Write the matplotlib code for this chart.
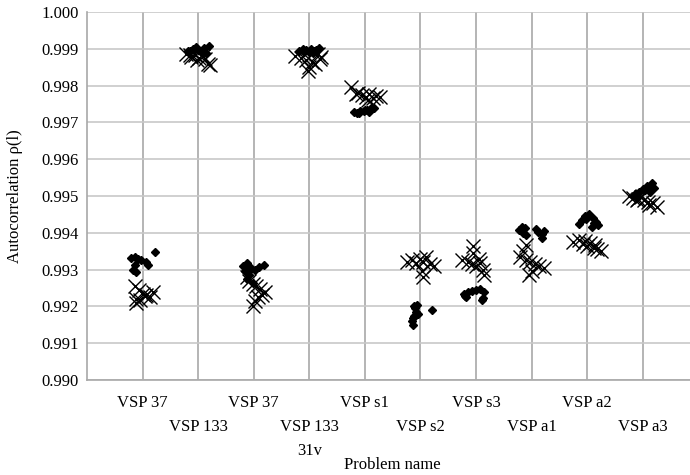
import matplotlib
matplotlib.use("Agg")
import matplotlib.pyplot as plt
import numpy as np

plt.rcParams['font.family'] = ['Liberation Serif', 'DejaVu Serif']

categories = ["VSP 37", "VSP 133", "VSP 37", "VSP 133\n31v", "VSP s1",
              "VSP s2", "VSP s3", "VSP a1", "VSP a2", "VSP a3"]

# diamond series (values and horizontal jitter in category units)
diamond_y = [
    [0.99348, 0.99332, 0.99334, 0.99328, 0.99326, 0.99320, 0.99312, 0.99312, 0.99299, 0.99293],
    [0.99895, 0.99900, 0.99905, 0.99898, 0.99890, 0.99893, 0.99902, 0.99908, 0.99888, 0.99896],
    [0.99310, 0.99318, 0.99305, 0.99300, 0.99308, 0.99312, 0.99295, 0.99285, 0.99275, 0.99264],
    [0.99895, 0.99900, 0.99898, 0.99892, 0.99888, 0.99896, 0.99902, 0.99890, 0.99899, 0.99894],
    [0.99728, 0.99726, 0.99730, 0.99732, 0.99735, 0.99728, 0.99738, 0.99740, 0.99733, 0.99725],
    [0.99200, 0.99195, 0.99185, 0.99175, 0.99168, 0.99160, 0.99150, 0.99190, 0.99180, 0.99205],
    [0.99235, 0.99240, 0.99242, 0.99245, 0.99248, 0.99240, 0.99225, 0.99218, 0.99222, 0.99228],
    [0.99416, 0.99408, 0.99400, 0.99395, 0.99410, 0.99402, 0.99398, 0.99386, 0.99405, 0.99412],
    [0.99425, 0.99435, 0.99445, 0.99452, 0.99440, 0.99430, 0.99420, 0.99415, 0.99438, 0.99428],
    [0.99500, 0.99505, 0.99512, 0.99520, 0.99528, 0.99535, 0.99510, 0.99495, 0.99522, 0.99515],
]
diamond_dx = [
    [0.22, -0.20, -0.14, -0.09, -0.02, 0.07, 0.09, -0.14, -0.18, -0.11],
    [-0.18, -0.10, -0.04, 0.00, 0.05, -0.14, 0.10, 0.20, 0.15, -0.07],
    [-0.20, -0.12, -0.05, 0.03, 0.10, 0.18, -0.15, -0.08, -0.12, -0.02],
    [-0.18, -0.12, -0.06, 0.00, 0.06, 0.12, 0.18, -0.09, 0.03, 0.09],
    [-0.20, -0.14, -0.08, -0.02, 0.04, 0.08, 0.12, 0.16, 0.00, -0.10],
    [-0.12, -0.10, -0.08, -0.12, -0.14, -0.15, -0.13, 0.20, -0.05, -0.07],
    [-0.22, -0.15, -0.08, 0.00, 0.08, 0.14, -0.18, 0.10, 0.12, -0.20],
    [-0.18, -0.22, -0.16, -0.10, 0.08, 0.12, 0.18, 0.18, 0.22, -0.12],
    [-0.15, -0.10, -0.04, 0.04, 0.10, 0.16, 0.20, 0.08, -0.02, 0.12],
    [-0.18, -0.12, -0.06, 0.00, 0.08, 0.16, 0.14, -0.10, 0.20, 0.05],
]

# cross series
cross_y = [
    [0.99255, 0.99245, 0.99235, 0.99230, 0.99225, 0.99220, 0.99210, 0.99238, 0.99228, 0.99218],
    [0.99885, 0.99878, 0.99882, 0.99875, 0.99880, 0.99872, 0.99860, 0.99856, 0.99883, 0.99870],
    [0.99280, 0.99270, 0.99262, 0.99255, 0.99248, 0.99240, 0.99232, 0.99225, 0.99215, 0.99202],
    [0.99880, 0.99875, 0.99870, 0.99865, 0.99885, 0.99878, 0.99860, 0.99850, 0.99840, 0.99872],
    [0.99796, 0.99780, 0.99775, 0.99770, 0.99778, 0.99765, 0.99772, 0.99768, 0.99762, 0.99776],
    [0.99320, 0.99325, 0.99318, 0.99330, 0.99335, 0.99315, 0.99310, 0.99322, 0.99295, 0.99280],
    [0.99365, 0.99345, 0.99325, 0.99320, 0.99315, 0.99310, 0.99318, 0.99300, 0.99285, 0.99330],
    [0.99367, 0.99350, 0.99335, 0.99325, 0.99320, 0.99315, 0.99310, 0.99305, 0.99295, 0.99285],
    [0.99375, 0.99380, 0.99370, 0.99365, 0.99372, 0.99378, 0.99360, 0.99355, 0.99350, 0.99368],
    [0.99500, 0.99495, 0.99490, 0.99498, 0.99488, 0.99485, 0.99480, 0.99470, 0.99475, 0.99492],
]
cross_dx = [
    [-0.14, -0.07, 0.00, 0.07, 0.14, -0.11, -0.11, 0.18, 0.04, -0.04],
    [-0.22, -0.12, -0.05, 0.02, 0.08, 0.12, 0.18, 0.22, -0.15, -0.02],
    [-0.12, -0.08, -0.02, 0.05, 0.12, 0.20, 0.15, 0.08, 0.02, -0.02],
    [-0.25, -0.15, -0.05, 0.05, 0.15, 0.22, 0.10, 0.00, -0.03, 0.20],
    [-0.25, -0.12, -0.05, 0.02, 0.08, 0.14, 0.20, 0.28, 0.05, -0.15],
    [-0.25, -0.15, -0.08, 0.00, 0.10, 0.18, 0.25, 0.05, 0.03, 0.05],
    [-0.05, -0.05, -0.25, -0.15, -0.08, 0.00, 0.08, 0.12, 0.15, 0.05],
    [-0.10, -0.15, -0.20, -0.10, -0.02, 0.06, 0.14, 0.22, 0.00, -0.04],
    [-0.25, -0.15, -0.08, 0.00, 0.06, -0.03, 0.12, 0.18, 0.25, 0.15],
    [-0.25, -0.18, -0.10, -0.03, 0.03, 0.10, 0.18, 0.25, 0.12, -0.08],
]

yticks = [0.990, 0.991, 0.992, 0.993, 0.994, 0.995, 0.996, 0.997, 0.998, 0.999, 1.000]

fig = plt.figure(figsize=(6.9, 4.75), dpi=100)
ax = fig.add_axes([0.126, 0.2, 0.886, 0.7747])

for i in range(len(categories)):
    pos = i + 1
    ax.plot(pos + np.array(cross_dx[i]), cross_y[i], linestyle='none', marker='x',
            ms=10, mew=1.0, color='black', zorder=3)
    ax.plot(pos + np.array(diamond_dx[i]), diamond_y[i], linestyle='none', marker='D',
            ms=4.4, color='black', zorder=4)

ax.set_xlim(0, len(categories) + 1)
ax.set_ylim(0.990, 1.000)
ax.set_yticks(yticks)
ax.set_yticklabels([f"{v:.3f}" for v in yticks], fontsize=12)

ax.set_xticks(range(1, len(categories) + 1))
labels = []
for i, c in enumerate(categories):
    labels.append(c if i % 2 == 0 else "\n" + c)
ax.set_xticklabels(labels, fontsize=12, linespacing=1.65, va='top')

ax.grid(axis='y', color='#c8c8c8', linewidth=1.2)
ax.grid(axis='x', color='#a8a8a8', linewidth=1.2)
ax.set_axisbelow(True)
ax.tick_params(length=0)
ax.tick_params(axis='x', pad=11)
ax.tick_params(axis='y', pad=6)
for s in ['top', 'right']:
    ax.spines[s].set_visible(False)
ax.spines['left'].set_color('#a8a8a8')
ax.spines['bottom'].set_color('#a8a8a8')
ax.spines['left'].set_linewidth(1.2)
ax.spines['bottom'].set_linewidth(1.2)

fig.text(0.568, 0.021, "Problem name", fontsize=12, ha='center', va='center')
fig.text(0.022, 0.588, "Autocorrelation ρ(l)", fontsize=12, rotation=90,
         ha='center', va='center')

fig.savefig("out.png", dpi=100)
